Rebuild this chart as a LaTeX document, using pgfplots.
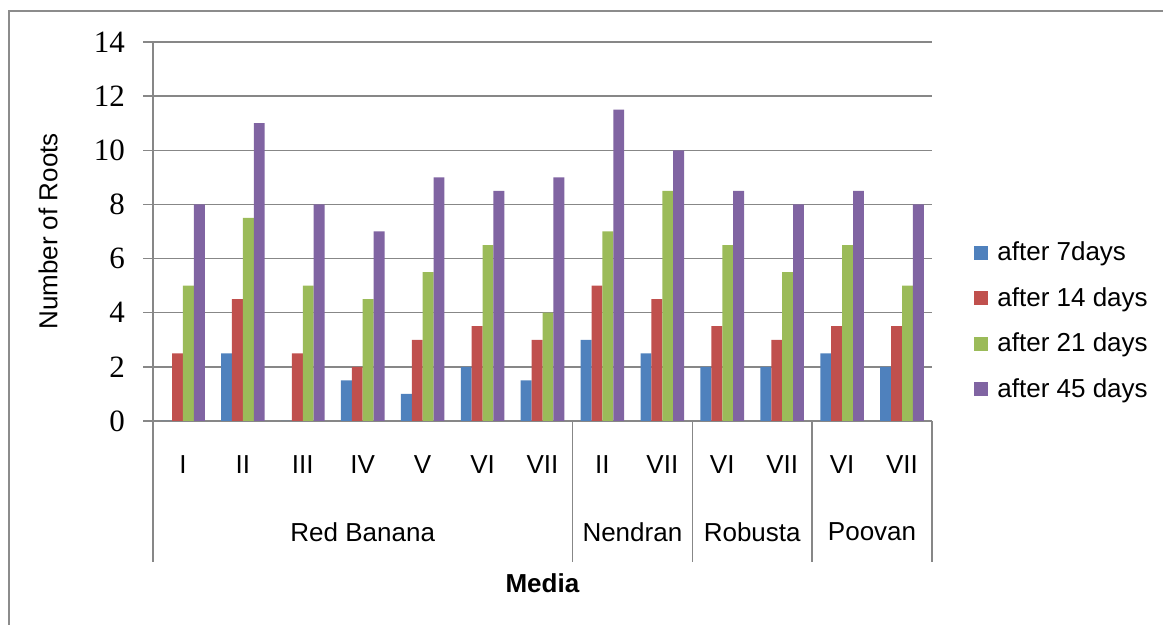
\documentclass[border=0pt]{standalone}
\usepackage{pgfplots}
\pgfplotsset{compat=1.18}
\usepackage{fontspec}
\setmainfont{Liberation Sans}
\newfontfamily\serifnum{Liberation Serif}
\definecolor{cblue}{HTML}{4F81BD}
\definecolor{cred}{HTML}{C0504D}
\definecolor{cgreen}{HTML}{9BBB59}
\definecolor{cpurple}{HTML}{8064A2}
\definecolor{gridgray}{HTML}{878787}
\definecolor{framegray}{HTML}{8C8C8C}
\newcommand{\lbl}{\fontsize{13}{15.6}\selectfont}
\begin{document}
\begin{tikzpicture}[x=1pt,y=1pt]
\useasboundingbox (0,0) rectangle (581.5,312.5);
\draw[framegray, line width=1pt] (4.5,0) -- (4.5,307) -- (581.5,307);
\begin{axis}[
  at={(76.5pt,102pt)}, anchor=south west,
  scale only axis, width=389.5pt, height=189.5pt,
  ybar=0pt, bar width=5.45pt,
  xmin=-0.5, xmax=12.5, ymin=0, ymax=14,
  xtick={0,...,12},
  xticklabels={I,II,III,IV,V,VI,VII,II,VII,VI,VII,VI,VII},
  ytick={0,2,...,14},
  axis x line*=bottom, axis y line*=left,
  axis line style={draw=gridgray, line width=0.75pt, -},
  ymajorgrids, grid style={draw=gridgray, line width=0.75pt},
  major x tick style={draw=none},
  major y tick style={draw=gridgray, line width=0.75pt},
  ytick align=outside, major tick length=5pt,
  /pgf/number format/assume math mode=true,
  yticklabel style={font=\serifnum\fontsize{15.5}{18}\selectfont, xshift=-5.5pt},
  xticklabel style={font=\lbl, anchor=center, yshift=-17pt},
  xlabel={\textbf{Media}},
  xlabel style={font=\lbl, at={(axis description cs:0.5,-0.4274)}, anchor=center},
  ylabel={Number of Roots},
  ylabel style={font=\lbl, at={(axis description cs:-0.1348,0.5)}, anchor=center},
  clip=false,
  legend style={draw=none, fill=none, font=\lbl, at={(1,0.2639)}, anchor=west, xshift=18pt,
    row sep=7.8pt, legend cell align=left, nodes={inner xsep=4.5pt}},
  legend image code/.code={\fill[#1] (0pt,-3.5pt) rectangle (7pt,3.5pt);},
]
\addplot[fill=cblue, draw=none] coordinates {(0,0) (1,2.5) (2,0) (3,1.5) (4,1) (5,2) (6,1.5) (7,3) (8,2.5) (9,2) (10,2) (11,2.5) (12,2)};
\addplot[fill=cred, draw=none] coordinates {(0,2.5) (1,4.5) (2,2.5) (3,2) (4,3) (5,3.5) (6,3) (7,5) (8,4.5) (9,3.5) (10,3) (11,3.5) (12,3.5)};
\addplot[fill=cgreen, draw=none] coordinates {(0,5) (1,7.5) (2,5) (3,4.5) (4,5.5) (5,6.5) (6,4) (7,7) (8,8.5) (9,6.5) (10,5.5) (11,6.5) (12,5)};
\addplot[fill=cpurple, draw=none] coordinates {(0,8) (1,11) (2,8) (3,7) (4,9) (5,8.5) (6,9) (7,11.5) (8,10) (9,8.5) (10,8) (11,8.5) (12,8)};
\legend{after 7days, after 14 days, after 21 days, after 45 days}
\draw[gridgray, line width=0.75pt] (axis cs:-0.5,0) -- ++(0pt,-70.5pt);
\draw[gridgray, line width=0.75pt] (axis cs:6.5,0) -- ++(0pt,-70.5pt);
\draw[gridgray, line width=0.75pt] (axis cs:8.5,0) -- ++(0pt,-70.5pt);
\draw[gridgray, line width=0.75pt] (axis cs:10.5,0) -- ++(0pt,-70.5pt);
\draw[gridgray, line width=0.75pt] (axis cs:12.5,0) -- ++(0pt,-70.5pt);
\node[font=\lbl, anchor=center] at ([yshift=-55.5pt]axis cs:3,0) {Red Banana};
\node[font=\lbl, anchor=center] at ([yshift=-55.5pt]axis cs:7.5,0) {Nendran};
\node[font=\lbl, anchor=center] at ([yshift=-55.5pt]axis cs:9.5,0) {Robusta};
\node[font=\lbl, anchor=center] at ([yshift=-55.5pt]axis cs:11.5,0) {Poovan};
\end{axis}
\end{tikzpicture}
\end{document}
